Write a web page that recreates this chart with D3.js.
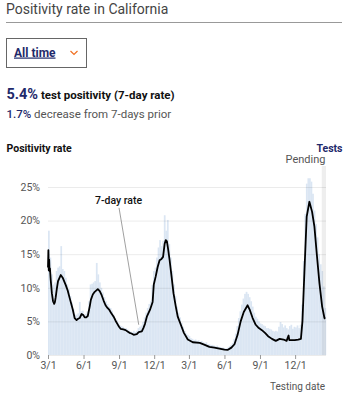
<!DOCTYPE html>
<html>
<head>
<meta charset="utf-8">
<script src="https://cdn.jsdelivr.net/npm/d3@7"></script>
<style>
  html, body { margin: 0; padding: 0; background: #fff; }
  svg { display: block; font-family: Roboto, "Liberation Sans", Arial, sans-serif; }
</style>
</head>
<body>
<svg id="chart" width="344" height="400"></svg>
<script>
// Daily test positivity (%), one value per 4-day bin starting 2020-03-01
const binStart = "2020-03-01";
const binDays = 4;
const dailyPositivity = [
  18.5, 14.5, 12.0, 10.5, 10.8, 12.5, 13.0, 13.2, 16.2, 12.8,
  12.5, 11.5, 10.5, 9.8, 8.8, 7.8, 6.8, 6.0, 6.0, 6.2,
  7.9, 6.5, 6.6, 6.0, 6.1, 6.5, 8.0, 10.5, 10.6, 10.8,
  11.0, 13.7, 12.0, 10.8, 10.0, 9.3, 8.6, 8.0, 7.6, 7.2,
  7.0, 6.6, 6.0, 5.5, 5.2, 4.8, 4.4, 4.3, 4.2, 4.0,
  4.0, 3.8, 3.6, 3.5, 3.4, 3.6, 3.4, 3.6, 4.0, 4.2,
  4.4, 4.9, 5.6, 6.3, 7.0, 7.6, 8.0, 10.4, 12.5, 13.0,
  14.5, 16.0, 17.1, 16.2, 17.0, 20.8, 18.5, 20.1, 16.5, 14.5,
  12.5, 10.5, 8.8, 7.2, 6.3, 5.6, 4.8, 4.2, 3.6, 3.2,
  3.0, 2.8, 2.5, 2.4, 2.2, 2.3, 2.1, 2.2, 2.0, 2.1,
  1.9, 1.8, 1.9, 1.6, 1.6, 1.5, 1.5, 1.4, 1.3, 1.4,
  1.2, 1.2, 1.1, 1.1, 1.0, 1.0, 1.1, 1.3, 1.5, 1.8,
  2.4, 3.2, 4.3, 5.5, 6.5, 7.5, 8.4, 9.1, 9.4, 9.1,
  8.6, 8.0, 7.2, 6.3, 5.7, 5.4, 5.0, 4.7, 4.6, 4.4,
  4.3, 4.0, 4.0, 3.9, 3.8, 3.6, 3.5, 3.6, 3.5, 4.2,
  4.9, 4.6, 4.1, 4.4, 4.0, 3.8, 4.3, 4.5, 3.9, 4.2,
  4.1, 4.4, 4.0, 4.5, 7.5, 14.0, 21.0, 25.5, 26.3, 26.3,
  25.8, 24.0, 21.5, 19.5, 17.5, 15.0, 13.5, 12.5, 10.2, 7.0
];

// 7-day average positivity (%)
const rateDates = [
  "2020-03-01","2020-03-02","2020-03-03","2020-03-04","2020-03-05","2020-03-06","2020-03-08","2020-03-11",
  "2020-03-14","2020-03-17","2020-03-19","2020-03-21","2020-03-24","2020-03-27","2020-04-03","2020-04-08",
  "2020-04-16","2020-04-21","2020-04-26","2020-05-04","2020-05-09","2020-05-14","2020-05-18","2020-05-22",
  "2020-05-27","2020-06-01","2020-06-04","2020-06-08","2020-06-12","2020-06-17","2020-06-20","2020-06-25",
  "2020-06-30","2020-07-08","2020-07-13","2020-07-18","2020-07-23","2020-07-28","2020-08-02","2020-08-07",
  "2020-08-12","2020-08-18","2020-08-23","2020-08-28","2020-09-01","2020-09-05","2020-09-12","2020-09-18",
  "2020-09-23","2020-09-28","2020-10-03","2020-10-09","2020-10-17","2020-10-22","2020-10-30","2020-11-03",
  "2020-11-07","2020-11-12","2020-11-20","2020-11-27","2020-11-30","2020-12-05","2020-12-10","2020-12-15",
  "2020-12-20","2020-12-24","2020-12-28","2020-12-31","2021-01-03","2021-01-06","2021-01-10","2021-01-15",
  "2021-01-20","2021-01-26","2021-01-31","2021-02-08","2021-02-16","2021-02-26","2021-03-11","2021-03-29",
  "2021-04-11","2021-04-23","2021-05-06","2021-05-19","2021-06-01","2021-06-09","2021-06-19","2021-06-27",
  "2021-07-05","2021-07-13","2021-07-21","2021-07-31","2021-08-05","2021-08-13","2021-08-21","2021-08-29",
  "2021-09-06","2021-09-14","2021-09-22","2021-10-02","2021-10-12","2021-10-22","2021-11-01","2021-11-09",
  "2021-11-12","2021-11-14","2021-11-16","2021-11-30","2021-12-09","2021-12-16","2021-12-20","2021-12-25",
  "2021-12-31","2022-01-07","2022-01-14","2022-01-20","2022-01-26","2022-02-02","2022-02-09","2022-02-15",
  "2022-02-17"
];
const rateValues = [
  13.0, 15.6, 12.6, 14.2, 12.5, 12.9, 11.2, 9.2,
  8.0, 7.6, 7.9, 8.6, 9.9, 11.0, 11.9, 11.5,
  10.4, 9.6, 8.5, 6.8, 5.5, 5.2, 5.4, 5.5,
  6.1, 5.9, 5.6, 5.6, 5.8, 7.2, 8.2, 9.0,
  9.4, 9.8, 9.5, 8.9, 8.1, 7.4, 7.0, 6.7,
  6.2, 5.7, 5.1, 4.6, 4.2, 3.9, 3.8, 3.7,
  3.5, 3.3, 3.2, 3.0, 3.1, 3.4, 3.5, 4.0,
  4.6, 5.7, 6.7, 7.9, 10.5, 11.7, 13.1, 14.1,
  14.3, 14.6, 16.5, 17.1, 16.9, 15.8, 14.1, 11.7,
  9.2, 7.2, 5.7, 4.5, 3.3, 2.3, 1.9, 1.8,
  1.5, 1.2, 1.1, 0.95, 0.8, 0.75, 1.1, 1.6,
  3.0, 5.0, 6.4, 7.4, 6.8, 5.5, 4.5, 4.0,
  3.7, 3.3, 2.8, 2.4, 2.1, 2.4, 2.3, 2.1,
  2.6, 2.9, 2.2, 2.2, 2.3, 2.4, 5.0, 12.2,
  20.6, 22.8, 21.3, 19.1, 15.1, 10.7, 7.2, 5.5,
  5.4
];

const yTicks = [0, 5, 10, 15, 20, 25];
const xTickDates = ["2020-03-01","2020-06-01","2020-09-01","2020-12-01","2021-03-01","2021-06-01","2021-09-01","2021-12-01"];
const pendingRange = ["2022-02-08", "2022-02-19"];
const currentRate = "5.4%";
const weeklyChange = "1.7%";

const parse = d3.utcParse("%Y-%m-%d");
const start = parse(binStart);
const bins = dailyPositivity.map((v, i) => ({ date: d3.utcDay.offset(start, i * binDays), v }));
const rate = rateDates.map((d, i) => ({ date: parse(d), v: rateValues[i] }));

const svg = d3.select("#chart");
const navy = "#1f2a6b";

// Header
svg.append("text").attr("x", 6).attr("y", 13.5)
  .attr("font-size", 14).attr("fill", "#444").text("Positivity rate in California");
svg.append("line").attr("x1", 6).attr("x2", 342).attr("y1", 22.5).attr("y2", 22.5)
  .attr("stroke", "#999").attr("stroke-width", 1);

// Time range selector
svg.append("rect").attr("x", 6.5).attr("y", 38.5).attr("width", 80).attr("height", 29)
  .attr("fill", "#fff").attr("stroke", "#666");
svg.append("text").attr("x", 14).attr("y", 56.5).attr("font-size", 12).attr("font-weight", 700)
  .attr("fill", navy).attr("text-decoration", "underline").text("All time");
svg.append("path").attr("d", "M70.5,51 L74,54.5 L77.5,51").attr("fill", "none")
  .attr("stroke", "#f07022").attr("stroke-width", 1.2);

// Summary
const s1 = svg.append("text").attr("x", 6.5).attr("y", 98.5);
s1.append("tspan").attr("font-size", 14.5).attr("font-weight", 700).attr("fill", navy).text(currentRate);
s1.append("tspan").attr("font-size", 11.5).attr("font-weight", 700).attr("fill", "#111").text(" test positivity (7-day rate)");
const s2 = svg.append("text").attr("x", 6.5).attr("y", 117.5).attr("font-size", 11.5);
s2.append("tspan").attr("font-weight", 500).attr("fill", navy).text(weeklyChange);
s2.append("tspan").attr("fill", "#555").text(" decrease from 7-days prior");

svg.append("text").attr("x", 6.5).attr("y", 151.5).attr("font-size", 10.5).attr("font-weight", 700)
  .attr("fill", "#111").text("Positivity rate");
svg.append("text").attr("x", 342.5).attr("y", 151.5).attr("text-anchor", "end").attr("font-size", 10.5)
  .attr("font-weight", 700).attr("fill", navy).text("Tests");

// Scales
const x = d3.scaleUtc().domain([parse("2020-03-01"), parse("2022-02-19")]).range([48, 326]);
const y = d3.scaleLinear().domain([0, 25]).range([355, 187]);

// Daily bars
svg.append("g").selectAll("rect").data(bins).join("rect")
  .attr("x", d => x(d.date))
  .attr("width", d => x(d3.utcDay.offset(d.date, binDays)) - x(d.date) + 0.2)
  .attr("y", d => y(d.v))
  .attr("height", d => y(0) - y(d.v))
  .attr("fill", "#dbe6f3");

// Pending band
svg.append("rect")
  .attr("x", x(parse(pendingRange[0]))).attr("width", x(parse(pendingRange[1])) - x(parse(pendingRange[0])))
  .attr("y", 166).attr("height", y(0) - 166)
  .attr("fill", "rgba(160,160,160,0.18)");
svg.append("text").attr("x", 325.5).attr("y", 163).attr("text-anchor", "end")
  .attr("font-size", 11).attr("fill", "#555").text("Pending");

// Y axis with gridlines
const yAxis = svg.append("g").attr("transform", "translate(48,0)")
  .call(d3.axisLeft(y).tickValues(yTicks).tickFormat(d => d + "%").tickSize(-(326 - 48)).tickPadding(8));
yAxis.select(".domain").remove();
yAxis.selectAll(".tick line").attr("stroke", "rgba(0,0,0,0.08)");
yAxis.selectAll(".tick text").attr("font-size", 10.5).attr("fill", "#555")
  .attr("font-family", "Roboto, sans-serif");

// X axis
const xAxis = svg.append("g").attr("transform", `translate(0,${y(0)})`)
  .call(d3.axisBottom(x).tickValues(xTickDates.map(parse)).tickFormat(d3.utcFormat("%-m/%-d")).tickSize(4).tickPadding(3));
xAxis.select(".domain").remove();
xAxis.selectAll(".tick line").attr("stroke", "#999");
xAxis.selectAll(".tick text").attr("font-size", 10.5).attr("fill", "#555")
  .attr("font-family", "Roboto, sans-serif");

svg.append("text").attr("x", 325).attr("y", 390).attr("text-anchor", "end")
  .attr("font-size", 10).attr("fill", "#555").text("Testing date");

// 7-day rate line
svg.append("path").datum(rate)
  .attr("fill", "none").attr("stroke", "#000").attr("stroke-width", 1.8)
  .attr("stroke-linejoin", "round")
  .attr("d", d3.line().x(d => x(d.date)).y(d => y(d.v)));

// Annotation
const leadFrom = { date: parse("2020-09-01"), v: 21.9 };
const leadTo = { date: parse("2020-10-22"), v: 4.5 };
svg.append("line")
  .attr("x1", x(leadFrom.date)).attr("y1", y(leadFrom.v))
  .attr("x2", x(leadTo.date)).attr("y2", y(leadTo.v))
  .attr("stroke", "#888").attr("stroke-width", 0.8);
svg.append("text").attr("x", 95).attr("y", 204).attr("font-size", 10.5).attr("font-weight", 500)
  .attr("fill", "#111").text("7-day rate");
</script>
</body>
</html>
